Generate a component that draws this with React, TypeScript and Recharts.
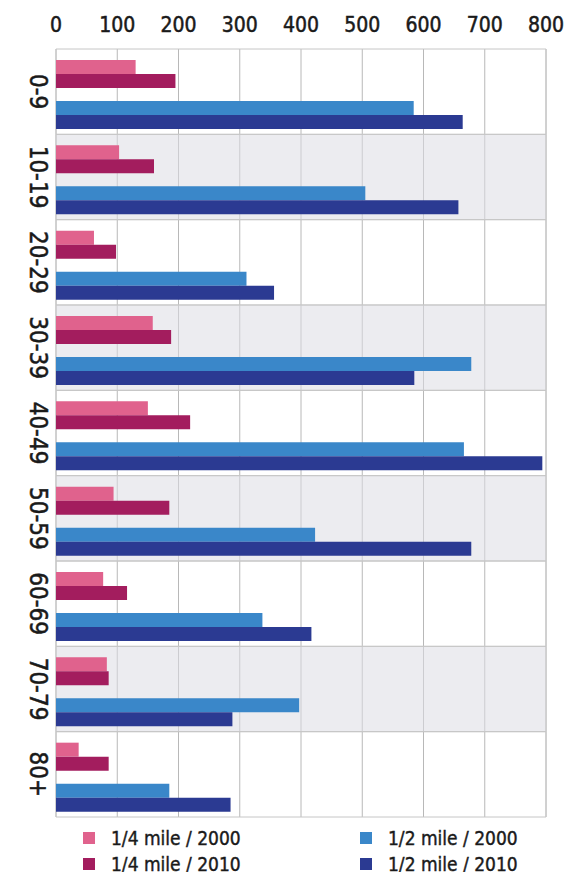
import React from 'react';
import { BarChart, Bar, XAxis, YAxis, CartesianGrid, ReferenceArea } from 'recharts';

const categories = ['0-9', '10-19', '20-29', '30-39', '40-49', '50-59', '60-69', '70-79', '80+'];
const quarter2000 = [130, 103, 62, 158, 150, 94, 77, 83, 37];
const quarter2010 = [195, 160, 98, 188, 219, 185, 116, 86, 86];
const half2000 = [584, 505, 311, 678, 666, 423, 337, 397, 185];
const half2010 = [664, 657, 356, 585, 794, 678, 417, 288, 285];
const xTicks = [0, 100, 200, 300, 400, 500, 600, 700, 800];

const seriesNames = ['1/4 mile / 2000', '1/4 mile / 2010', '1/2 mile / 2000', '1/2 mile / 2010'];
const seriesColors = ['#e0628d', '#a31d5e', '#3a87c9', '#2b3a92'];

const data = categories.map((cat, i) => ({
  cat,
  q2000: quarter2000[i],
  q2010: quarter2010[i],
  h2000: half2000[i],
  h2010: half2010[i],
}));

const FONT = "'DejaVu Sans Condensed', 'DejaVu Sans', sans-serif";

const YTick = (props: any) => {
  const { x, y, payload } = props;
  return (
    <text
      x={x}
      y={y}
      transform={`rotate(90 ${x} ${y})`}
      textAnchor="middle"
      dominantBaseline="central"
      fontFamily={FONT}
      fontSize={24}
      fill="#1a1a1a"
      stroke="#1a1a1a"
      strokeWidth={0.5}
    >
      {payload.value}
    </text>
  );
};

const legendItems = [
  { name: seriesNames[0], color: seriesColors[0], left: 75, top: 830 },
  { name: seriesNames[2], color: seriesColors[2], left: 352, top: 830 },
  { name: seriesNames[1], color: seriesColors[1], left: 75, top: 856 },
  { name: seriesNames[3], color: seriesColors[3], left: 352, top: 856 },
];

export default function App() {
  return (
    <div style={{ position: 'relative', width: 567, height: 864, background: '#fff' }}>
      <BarChart
        width={567}
        height={815}
        data={data}
        layout="vertical"
        margin={{ top: 11, right: 29, bottom: 6, left: 8 }}
        barGap={0}
      >
        <CartesianGrid horizontal={false} vertical={true} stroke="#b8b8b8" strokeWidth={1} />
        {categories.map((c, i) => (
          <ReferenceArea
            key={c}
            y1={c}
            y2={c}
            fill={i % 2 === 1 ? '#dcdce4' : '#ffffff'}
            fillOpacity={i % 2 === 1 ? 0.55 : 0}
            stroke="#c6c6c6"
            strokeWidth={1}
          />
        ))}
        <XAxis
          type="number"
          orientation="top"
          domain={[0, 800]}
          ticks={xTicks}
          axisLine={false}
          tickLine={false}
          tickSize={0}
          tickMargin={17}
          height={30}
          tick={{ fontFamily: FONT, fontSize: 21, fill: '#1a1a1a', stroke: '#1a1a1a', strokeWidth: 0.5 }}
          interval={0}
        />
        <YAxis
          type="category"
          dataKey="cat"
          width={40}
          axisLine={false}
          tickLine={false}
          tickSize={0}
          tickMargin={18}
          tick={<YTick />}
          interval={0}
        />
        <Bar dataKey="padTop" barSize={6} fill="transparent" isAnimationActive={false} />
        <Bar dataKey="q2000" barSize={14} fill={seriesColors[0]} isAnimationActive={false} />
        <Bar dataKey="q2010" barSize={14} fill={seriesColors[1]} isAnimationActive={false} />
        <Bar dataKey="padMid" barSize={13} fill="transparent" isAnimationActive={false} />
        <Bar dataKey="h2000" barSize={14} fill={seriesColors[2]} isAnimationActive={false} />
        <Bar dataKey="h2010" barSize={14} fill={seriesColors[3]} isAnimationActive={false} />
      </BarChart>
      {legendItems.map((it) => (
        <div
          key={it.name}
          style={{
            position: 'absolute',
            left: it.left,
            top: it.top - 12,
            height: 24,
            display: 'flex',
            alignItems: 'center',
            fontFamily: FONT,
            fontSize: 19,
            color: '#1a1a1a',
            WebkitTextStroke: '0.4px #1a1a1a',
            whiteSpace: 'nowrap',
          }}
        >
          <span style={{ display: 'inline-block', width: 12, height: 12, background: it.color, marginRight: 16 }} />
          <span>{it.name}</span>
        </div>
      ))}
    </div>
  );
}
